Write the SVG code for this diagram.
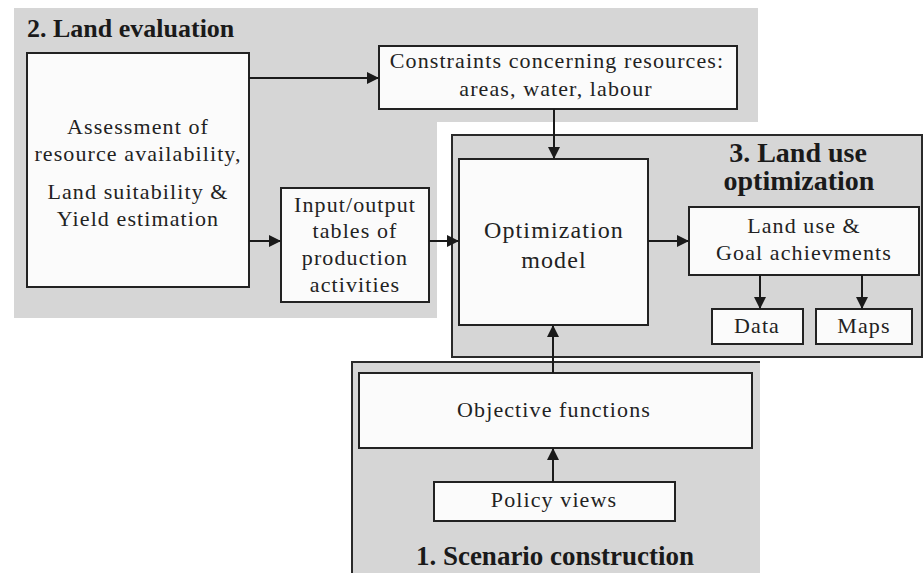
<svg xmlns="http://www.w3.org/2000/svg" width="924" height="573" viewBox="0 0 924 573">
  <style>
    .panel { fill: #d6d6d6; }
    .frame { fill: none; stroke: #2a2a2a; stroke-width: 2; }
    .box { fill: #fbfbfb; stroke: #222; stroke-width: 2; }
    .txt { font-family: "Liberation Serif", "Times New Roman", serif; font-size: 22px; letter-spacing: 1.1px; fill: #222; text-anchor: middle; }
    .big { font-size: 24px; }
    .head { font-family: "Liberation Serif", "Times New Roman", serif; font-weight: bold; fill: #1a1a1a; }
    .edge { fill: none; stroke: #1a1a1a; stroke-width: 2; }
  </style>
  <defs>
    <marker id="arrow" viewBox="0 0 12 12" refX="11" refY="6" markerWidth="12" markerHeight="12" markerUnits="userSpaceOnUse" orient="auto">
      <path d="M0,0 L12,6 L0,12 Z" fill="#1a1a1a"/>
    </marker>
  </defs>

  <rect width="924" height="573" fill="#ffffff"/>

  <!-- Panel 2: land evaluation -->
  <g id="panel-land-evaluation">
    <path class="panel" d="M14,8 H758 V122 H437 V318 H14 Z"/>
    <text class="head" x="27" y="37" font-size="26">2. Land evaluation</text>
  </g>

  <!-- Panel 3: land use optimization -->
  <g id="panel-optimization">
    <rect class="panel" x="452" y="135" width="470" height="222"/>
    <rect class="frame" x="452" y="135" width="470" height="222"/>
    <text class="head" x="798" y="162" font-size="28" text-anchor="middle">3. Land use</text>
    <text class="head" x="799" y="190" font-size="28" text-anchor="middle">optimization</text>
  </g>

  <!-- Panel 1: scenario construction -->
  <g id="panel-scenario">
    <rect class="panel" x="352" y="362" width="408" height="211"/>
    <path class="frame" d="M352,573 V362 H760"/>
    <text class="head" x="555" y="565" font-size="27" text-anchor="middle">1. Scenario construction</text>
  </g>

  <g id="assessment">
    <rect class="box" x="27" y="53" width="222" height="234"/>
    <text class="txt" x="138" y="134">Assessment of</text>
    <text class="txt" x="138" y="161">resource availability,</text>
    <text class="txt" x="138" y="199">Land suitability &amp;</text>
    <text class="txt" x="138" y="226">Yield estimation</text>
  </g>

  <g id="constraints">
    <rect class="box" x="379" y="46" width="358" height="63"/>
    <text class="txt" x="557" y="68">Constraints concerning resources:</text>
    <text class="txt" x="556" y="96">areas, water, labour</text>
  </g>

  <g id="io-tables">
    <rect class="box" x="281" y="188" width="148" height="114"/>
    <text class="txt" x="355" y="212">Input/output</text>
    <text class="txt" x="355" y="238">tables of</text>
    <text class="txt" x="355" y="265">production</text>
    <text class="txt" x="355" y="292">activities</text>
  </g>

  <g id="optimization-model">
    <rect class="box" x="459" y="159" width="189" height="166"/>
    <text class="txt big" x="554" y="238">Optimization</text>
    <text class="txt big" x="554" y="268">model</text>
  </g>

  <g id="land-use-goals">
    <rect class="box" x="689" y="207" width="230" height="68"/>
    <text class="txt" x="804" y="233">Land use &amp;</text>
    <text class="txt" x="804" y="260">Goal achievments</text>
  </g>

  <g id="data">
    <rect class="box" x="712" y="309" width="91" height="35"/>
    <text class="txt" x="757" y="333">Data</text>
  </g>

  <g id="maps">
    <rect class="box" x="816" y="309" width="96" height="35"/>
    <text class="txt" x="864" y="333">Maps</text>
  </g>

  <g id="objective-functions">
    <rect class="box" x="359" y="373" width="393" height="75"/>
    <text class="txt" x="554" y="417">Objective functions</text>
  </g>

  <g id="policy-views">
    <rect class="box" x="434" y="482" width="241" height="39"/>
    <text class="txt" x="554" y="507">Policy views</text>
  </g>

  <!-- Connectors -->
  <g id="connectors">
    <line class="edge" x1="249" y1="78" x2="378" y2="78" marker-end="url(#arrow)"/>
    <line class="edge" x1="249" y1="241" x2="280" y2="241" marker-end="url(#arrow)"/>
    <line class="edge" x1="429" y1="241" x2="458" y2="241" marker-end="url(#arrow)"/>
    <line class="edge" x1="554" y1="109" x2="554" y2="158" marker-end="url(#arrow)"/>
    <line class="edge" x1="648" y1="241" x2="688" y2="241" marker-end="url(#arrow)"/>
    <line class="edge" x1="760" y1="275" x2="760" y2="308" marker-end="url(#arrow)"/>
    <line class="edge" x1="862" y1="275" x2="862" y2="308" marker-end="url(#arrow)"/>
    <line class="edge" x1="553" y1="373" x2="553" y2="326" marker-end="url(#arrow)"/>
    <line class="edge" x1="553" y1="482" x2="553" y2="449" marker-end="url(#arrow)"/>
  </g>
</svg>
